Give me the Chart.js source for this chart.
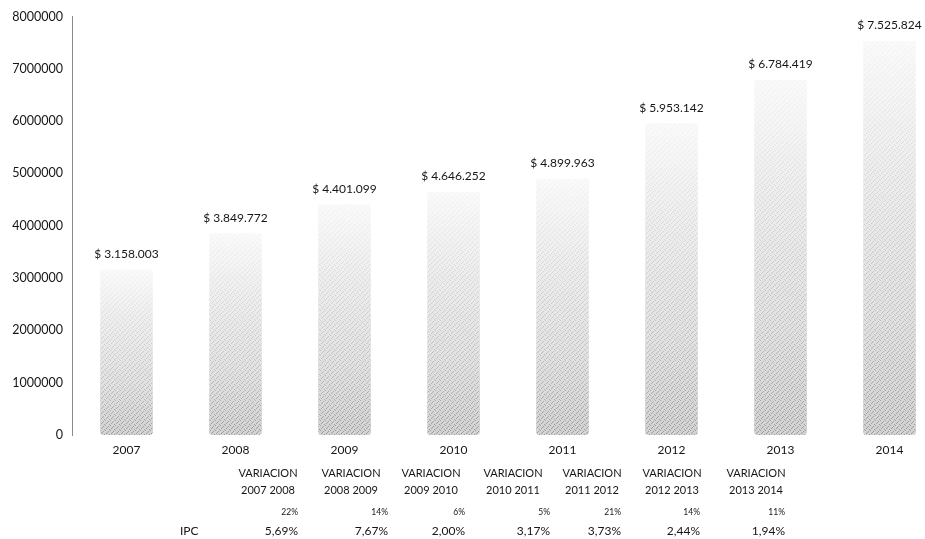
<!DOCTYPE html>
<html>
<head>
<meta charset="utf-8">
<script src="https://cdn.jsdelivr.net/npm/chart.js@4/dist/chart.umd.min.js"></script>
<style>
  html,body{margin:0;padding:0;background:#fff;overflow:hidden;}
  #wrap{position:relative;width:944px;height:539px;}
</style>
</head>
<body>
<div id="wrap"><canvas id="chart"></canvas></div>
<script>
// chart data
const years = ["2007","2008","2009","2010","2011","2012","2013","2014"];
const amounts = [3158003, 3849772, 4401099, 4646252, 4899963, 5953142, 6784419, 7525824];
const yMax = 8000000;
const yStep = 1000000;

// table below the chart
const variationTitle = "VARIACION";
const variationPeriods = ["2007 2008","2008 2009","2009 2010","2010 2011","2011 2012","2012 2013","2013 2014"];
const variationPct = ["22%","14%","6%","5%","21%","14%","11%"];
const ipcLabel = "IPC";
const ipcValues = ["5,69%","7,67%","2,00%","3,17%","3,73%","2,44%","1,94%"];

const FONT = "Lato, 'Open Sans', sans-serif";
const INK = "#151515";

function money(v){ return "$ " + String(v).replace(/\B(?=(\d{3})+(?!\d))/g, "."); }

function barFill(ctx){
  const chart = ctx.chart, area = chart.chartArea;
  if (!area || ctx.raw == null) return "#d0d0d0";
  const top = chart.scales.y.getPixelForValue(ctx.raw);
  const g = chart.ctx.createLinearGradient(0, area.bottom, 0, top);
  g.addColorStop(0, "#9c9c9c");
  g.addColorStop(0.3, "#bdbdbd");
  g.addColorStop(0.7, "#dadada");
  g.addColorStop(1, "#f4f4f4");
  return g;
}

// small speckle tile laid over the bars so they read as a stipple print
function speckle(c){
  const t = document.createElement("canvas");
  t.width = 5; t.height = 5;
  const tc = t.getContext("2d");
  tc.fillStyle = "rgba(255,255,255,0.55)";
  tc.fillRect(0, 0, 5, 5);
  const holes = [[0,0],[3,1],[1,3],[4,4],[2,2]];
  for (const [x, y] of holes) tc.clearRect(x, y, 1, 1);
  return c.createPattern(t, "repeat");
}

// value labels above bars + the variation / IPC table
const extras = {
  id: "extras",
  afterDatasetsDraw(chart){
    const c = chart.ctx;
    const meta = chart.getDatasetMeta(0);
    c.save();
    c.fillStyle = speckle(c);
    meta.data.forEach(bar => {
      c.fillRect(bar.x - bar.width / 2, bar.y, bar.width, bar.base - bar.y);
    });

    c.fillStyle = INK;
    c.textAlign = "center";
    c.textBaseline = "alphabetic";
    c.font = "12px " + FONT;
    meta.data.forEach((bar, i) => {
      c.fillText(money(amounts[i]), bar.x, bar.y - 12);
    });

    // table columns
    const colCenter = [268, 351, 431, 513, 592, 672, 756];
    const colRight = [298, 388, 465, 550, 621, 700, 785];
    c.font = "11px " + FONT;
    variationPeriods.forEach((p, i) => {
      c.textAlign = "center";
      c.fillText(variationTitle, colCenter[i], 477);
      c.fillText(p, colCenter[i], 494);
    });
    c.font = "8.5px " + FONT;
    c.textAlign = "right";
    variationPct.forEach((p, i) => c.fillText(p, colRight[i], 515));
    c.font = "12px " + FONT;
    ipcValues.forEach((p, i) => c.fillText(p, colRight[i], 535));
    c.textAlign = "left";
    c.fillText(ipcLabel, 180, 535);
    c.restore();
  }
};

new Chart(document.getElementById("chart"), {
  type: "bar",
  data: {
    labels: years,
    datasets: [{
      data: amounts,
      backgroundColor: barFill,
      borderWidth: 0,
      borderRadius: {topLeft: 0, topRight: 0, bottomLeft: 3, bottomRight: 3},
      borderSkipped: false,
      barPercentage: 0.48,
      categoryPercentage: 1
    }]
  },
  options: {
    responsive: true,
    maintainAspectRatio: false,
    animation: false,
    layout: { padding: { top: 15, right: 0, bottom: 0, left: 0 } },
    plugins: { legend: { display: false }, tooltip: { enabled: false } },
    scales: {
      x: {
        grid: { display: false, drawTicks: false },
        border: { display: false },
        ticks: { color: INK, font: { family: FONT, size: 12 }, padding: 8, maxRotation: 0 },
        afterFit(scale){ scale.height = 104; }
      },
      y: {
        min: 0, max: yMax,
        grid: { display: false, drawTicks: false },
        border: { display: true, color: "#8a8a8a", width: 1, dash: [1, 2] },
        ticks: { stepSize: yStep, color: INK, font: { family: FONT, size: 12.5 }, padding: 9,
                 callback: v => String(v) },
        afterFit(scale){ scale.width = 72; }
      }
    }
  },
  plugins: [extras]
});
</script>
</body>
</html>
